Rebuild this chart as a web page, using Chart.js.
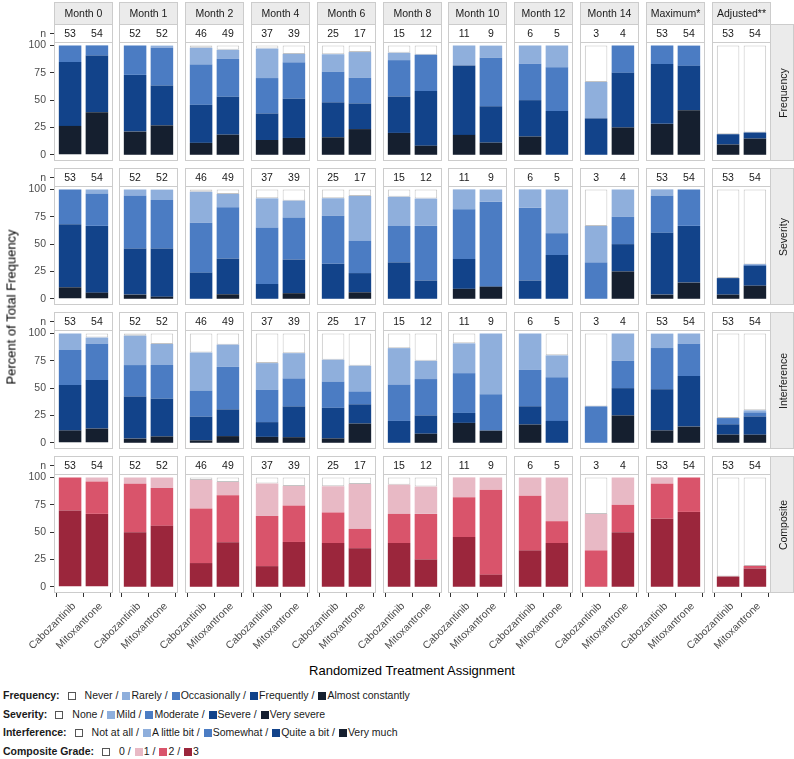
<!DOCTYPE html>
<html><head><meta charset="utf-8">
<script src="https://cdn.jsdelivr.net/npm/chart.js@4.4.1/dist/chart.umd.min.js"></script>
<style>
html,body{margin:0;padding:0;background:#fff;}
body{width:794px;height:759px;position:relative;overflow:hidden;font-family:"Liberation Sans",Arial,sans-serif;}
canvas{position:absolute;}
.t{position:absolute;white-space:nowrap;color:#1a1a1a;font-size:10.5px;line-height:1;font-weight:400;}
.leg{position:absolute;left:3px;font-size:10.5px;white-space:nowrap;color:#1a1a1a;line-height:14px;}
.sq{display:inline-block;width:8px;height:8px;vertical-align:-1px;box-sizing:border-box;}
</style></head><body>
<script>
// ---------- data ----------
const panels = ['Month 0','Month 1','Month 2','Month 4','Month 6','Month 8','Month 10','Month 12','Month 14','Maximum*','Adjusted**'];
const groups = ['Cabozantinib','Mitoxantrone'];
const nCabozantinib = [53,52,46,37,25,15,11,6,3,53,53];
const nMitoxantrone = [54,52,49,39,17,12,9,5,4,54,54];
const yTicks = [0,25,50,75,100];

// values: percent per panel, pairs [Cabozantinib, Mitoxantrone]
const freqAlmostConstantly = [26.4,38.9, 21.2,26.9, 10.9,18.4, 13.5,15.4, 16,23.5, 20,8.3, 18.2,11.1, 16.7,0, 0,25, 28.3,40.7, 9.4,14.8];
const freqFrequently       = [58.5,51.9, 51.9,36.5, 34.8,34.7, 24.3,35.9, 32,23.5, 33.3,50, 63.6,33.3, 33.3,40, 33.3,50, 54.7,40.7, 9.4,5.6];
const freqOccasionally     = [15.1,9.3, 26.9,34.6, 37.0,34.7, 32.4,33.3, 28,23.5, 33.3,33.3, 0,44.4, 33.3,40, 0,25, 17.0,18.5, 0,0];
const freqRarely           = [0,0, 0,1.9, 15.2,8.2, 27.0,7.7, 16,23.5, 6.7,0, 18.2,11.1, 16.7,20, 33.3,0, 0,0, 0,0];
const freqNever            = [0,0, 0,0, 2.2,4.1, 2.7,7.7, 8,5.9, 6.7,8.3, 0,0, 0,0, 33.3,0, 0,0, 81.1,79.6];

const sevVerySevere = [10.5,5.6, 3.8,1.9, 0,4.1, 0,5.1, 0,5.9, 0,0, 9.1,11.1, 0,0, 0,25, 3.8,14.8, 3.8,12.0];
const sevSevere     = [57.8,61.1, 42.3,44.2, 23.9,32.7, 13.5,30.8, 32,17.6, 33.3,16.7, 27.3,0, 16.7,40, 0,25, 56.6,51.9, 15.1,18.2];
const sevModerate   = [31.7,29.6, 48.1,44.2, 45.7,46.9, 51.4,38.5, 44,29.4, 33.3,50, 45.5,77.8, 66.7,20, 33.3,25, 34.0,33.3, 0,1.2];
const sevMild       = [0,3.7, 5.8,9.6, 28.3,12.2, 27.0,15.4, 16,41.2, 26.7,25, 18.2,11.1, 16.7,40, 33.3,25, 5.7,0, 0,0];
const sevNone       = [0,0, 0,0, 2.2,4.1, 8.1,10.3, 8,5.9, 6.7,8.3, 0,0, 0,0, 33.3,0, 0,0, 81.1,68.6];

const intVeryMuch   = [11.3,13.0, 3.8,5.8, 2.2,6.1, 5.4,5.1, 4,17.6, 0,8.3, 18.2,11.1, 16.7,0, 0,25, 11.3,14.8, 7.5,7.4];
const intQuiteABit  = [41.5,44.4, 38.5,34.6, 21.7,24.5, 13.5,28.2, 28,17.6, 20,16.7, 9.1,0, 16.7,20, 0,25, 37.7,46.3, 9.4,16.7];
const intSomewhat   = [32.1,33.3, 28.8,30.8, 23.9,38.8, 29.7,25.6, 24,11.8, 33.3,33.3, 36.4,33.3, 33.3,40, 33.3,25, 37.7,29.6, 5.7,3.7];
const intALittleBit = [15.1,5.6, 26.9,19.2, 34.8,20.4, 24.3,23.1, 20,23.5, 33.3,16.7, 27.3,55.6, 33.3,20, 0,25, 13.2,9.3, 0,1.9];
const intNotAtAll   = [0,3.7, 1.9,9.6, 17.4,10.2, 27.0,17.9, 24,29.4, 13.3,25, 9.1,0, 0,20, 66.7,0, 0,0, 77.4,70.4];

const compGrade3 = [69.8,66.7, 50,55.8, 21.7,40.8, 18.9,41.0, 40,35.3, 40,25, 45.5,11.1, 33.3,40, 0,50, 62.3,68.5, 9.4,16.7];
const compGrade2 = [30.2,29.6, 44.2,34.6, 50,42.9, 45.9,33.3, 28,17.6, 26.7,41.7, 36.4,77.8, 50,20, 33.3,25, 32.1,31.5, 0,2.4];
const compGrade1 = [0,3.7, 5.8,9.6, 26.1,12.2, 29.7,17.9, 24,41.2, 26.7,25, 18.2,11.1, 16.7,40, 33.3,25, 5.7,0, 0,0];
const compGrade0 = [0,0, 0,0, 2.2,4.1, 5.4,7.7, 8,5.9, 6.7,8.3, 0,0, 0,0, 33.3,0, 0,0, 90.6,80.9];

// ---------- styles ----------
const blues = ['#ffffff','#8fafdc','#4b7cc3','#12438a','#151f2f']; // legend order (top of stack first)
const reds  = ['#ffffff','#e8b9c5','#d9546b','#9b263c'];

const rows = [
  {label:'Frequency', legend:'Frequency:', names:['Never','Rarely','Occasionally','Frequently','Almost constantly'],
   levels:[freqNever,freqRarely,freqOccasionally,freqFrequently,freqAlmostConstantly], colors:blues},
  {label:'Severity', legend:'Severity:', names:['None','Mild','Moderate','Severe','Very severe'],
   levels:[sevNone,sevMild,sevModerate,sevSevere,sevVerySevere], colors:blues},
  {label:'Interference', legend:'Interference:', names:['Not at all','A little bit','Somewhat','Quite a bit','Very much'],
   levels:[intNotAtAll,intALittleBit,intSomewhat,intQuiteABit,intVeryMuch], colors:blues},
  {label:'Composite', legend:'Composite Grade:', names:['0','1','2','3'],
   levels:[compGrade0,compGrade1,compGrade2,compGrade3], colors:reds}
];

const FAM = '"Liberation Sans", Arial, sans-serif';
Chart.defaults.font.family = FAM;
Chart.defaults.font.size = 10.5;

const G = {left0:53.5, pitchX:65.8, boxW:59, top0:42, pitchY:143.85, boxH:119, stripH:22, nH:18, rightW:23, yAxisW:54, xAxisH:62, over:50};
const Y_MIN = -5.7, Y_MAX = 103.2;
const LINE = '#cccccc';

const decor = {
  id:'decor',
  afterDraw(chart, args, o){
    const ctx = chart.ctx, a = chart.chartArea;
    ctx.save();
    ctx.lineWidth = 1; ctx.strokeStyle = LINE;
    const nTop = a.top - G.nH;
    if (o.strip){
      ctx.fillStyle = '#ebebeb';
      ctx.fillRect(a.left, nTop - G.stripH, a.right - a.left, G.stripH);
      ctx.strokeRect(a.left + 0.5, nTop - G.stripH + 0.5, a.right - a.left - 1, G.stripH);
    }
    if (o.right){
      ctx.fillStyle = '#ebebeb';
      ctx.fillRect(a.right, nTop, G.rightW, a.bottom - nTop);
      ctx.strokeRect(a.right - 0.5, nTop + 0.5, G.rightW, a.bottom - nTop - 1);
    }
    ctx.strokeRect(a.left + 0.5, nTop + 0.5, a.right - a.left - 1, G.nH);
    ctx.strokeRect(a.left + 0.5, a.top + 0.5, a.right - a.left - 1, a.bottom - a.top - 1);
    if (o.nTick){
      ctx.strokeStyle = '#333333';
      ctx.beginPath();
      const yy = Math.round(nTop + G.nH/2) + 0.5;
      ctx.moveTo(a.left - 4, yy); ctx.lineTo(a.left, yy); ctx.stroke();
    }
    ctx.restore();
  }
};

function addText(x, y, txt, extra){
  const d = document.createElement('div');
  d.className = 't';
  d.textContent = txt;
  d.style.left = x + 'px'; d.style.top = y + 'px';
  d.style.transform = 'translate(-50%,-50%)' + (extra || '');
  document.body.appendChild(d);
  return d;
}

const nCounts = [nCabozantinib, nMitoxantrone];
const lastC = panels.length - 1, lastR = rows.length - 1;

rows.forEach((row, r) => {
  panels.forEach((p, c) => {
    const boxL = Math.round(G.left0 + G.pitchX * c);
    const boxT = Math.round(G.top0 + G.pitchY * r);
    const extraTop = G.nH + (r === 0 ? G.stripH : 0);
    const extraLeft = c === 0 ? boxL : (r === lastR ? G.over : 0);
    const extraRight = c === lastC ? G.rightW : 0;
    const extraBottom = r === lastR ? G.xAxisH : 0;
    const cw = extraLeft + G.boxW + extraRight, chh = extraTop + G.boxH + extraBottom;
    const cl = boxL - extraLeft, ct = boxT - extraTop;
    const cv = document.createElement('canvas');
    cv.width = cw; cv.height = chh;
    cv.style.left = cl + 'px'; cv.style.top = ct + 'px';
    cv.style.width = cw + 'px'; cv.style.height = chh + 'px';
    document.body.appendChild(cv);

    const datasets = row.levels.map((arr, k) => ({ arr, col: row.colors[k], name: row.names[k] })).reverse().map(L => ({
      label: L.name,
      data: groups.map((g, i) => ({x: i + 1, y: L.arr[2*c + i]})),
      backgroundColor: L.col,
      borderColor: L.col === '#ffffff' ? '#c4c4c4' : L.col,
      borderWidth: ctx => (L.col === '#ffffff' && ctx.raw && ctx.raw.y > 0) ? 1 : 0,
      borderSkipped: false,
      barPercentage: 0.84,
      categoryPercentage: 1
    }));

    const chart = new Chart(cv, {
      type: 'bar',
      data: {datasets},
      plugins: [decor],
      options: {
        responsive: false, animation: false, devicePixelRatio: 1, events: [],
        layout: {padding: {top: extraTop, right: extraRight, left: c === 0 ? 0 : extraLeft, bottom: 0}},
        plugins: {legend: {display: false}, tooltip: {enabled: false},
                  decor: {strip: r === 0, right: c === lastC, nTick: c === 0}},
        scales: {
          x: {type: 'linear', stacked: true, min: 0.4, max: 2.6, offset: false, bounds: 'data',
              display: r === lastR,
              afterBuildTicks: s => { s.ticks = groups.map((g, i) => ({value: i + 1})); },
              afterFit: s => { if (r === lastR) { s.height = G.xAxisH; s.paddingLeft = 0; s.paddingRight = 0; } },
              ticks: {callback: v => groups[Math.round(v) - 1], minRotation: 45, maxRotation: 45, autoSkip: false,
                      color: '#4d4d4d', font: {size: 10.5}, padding: 3, labelOffset: 4},
              grid: {drawOnChartArea: false, drawTicks: true, tickLength: 4, tickColor: '#333333'},
              border: {display: false}},
          y: {stacked: true, min: Y_MIN, max: Y_MAX, bounds: 'data',
              display: c === 0,
              afterBuildTicks: s => { s.ticks = yTicks.map(v => ({value: v})); },
              afterFit: s => { if (c === 0) { s.width = G.yAxisW; s.paddingTop = 0; s.paddingBottom = 0; } },
              ticks: {color: '#4d4d4d', font: {size: 10.5}, padding: 4},
              grid: {drawOnChartArea: false, drawTicks: true, tickLength: 4, tickColor: '#333333'},
              border: {display: false}}
        }
      }
    });

    const a = chart.chartArea, xs = chart.scales.x;
    const nY = ct + a.top - G.nH / 2;
    groups.forEach((g, i) => addText(cl + xs.getPixelForValue(i + 1), nY, String(nCounts[i][c])));
    if (r === 0) addText(cl + (a.left + a.right) / 2, ct + a.top - G.nH - G.stripH / 2, p);
    if (c === lastC) addText(cl + a.right + G.rightW / 2, ct + (a.top - G.nH + a.bottom) / 2, row.label, ' rotate(-90deg)');
    if (c === 0) {
      const d = addText(cl + a.left - 8, nY, 'n');
      d.style.transform = 'translate(-100%,-50%)';
      d.style.color = '#4d4d4d';
    }
  });
});

// axis titles
(function(){
  const yt = addText(11, 307, 'Percent of Total Frequency', ' rotate(-90deg)');
  yt.style.fontSize = '13px'; yt.style.color = '#000'; yt.style.fontWeight = '400';
  const xt = addText(412, 670, 'Randomized Treatment Assignment');
  xt.style.fontSize = '13px'; xt.style.color = '#000';
})();

// legend
const legendCenters = [695, 713.5, 732, 750.5];
rows.forEach((row, r) => {
  const d = document.createElement('div');
  d.className = 'leg';
  d.style.top = (legendCenters[r] - 7) + 'px';
  let h = '<b>' + row.legend + '</b>';
  row.names.forEach((nm, i) => {
    const col = row.colors[i];
    if (col === '#ffffff') h += '<span class="sq" style="background:#fff;border:1px solid #555;margin:0 9px 0 8px"></span>';
    else h += '<span class="sq" style="background:' + col + ';margin:0 1px 0 4px"></span>';
    h += nm + (i < row.names.length - 1 ? ' /' : '');
  });
  d.innerHTML = h;
  document.body.appendChild(d);
});
</script>
</body></html>
